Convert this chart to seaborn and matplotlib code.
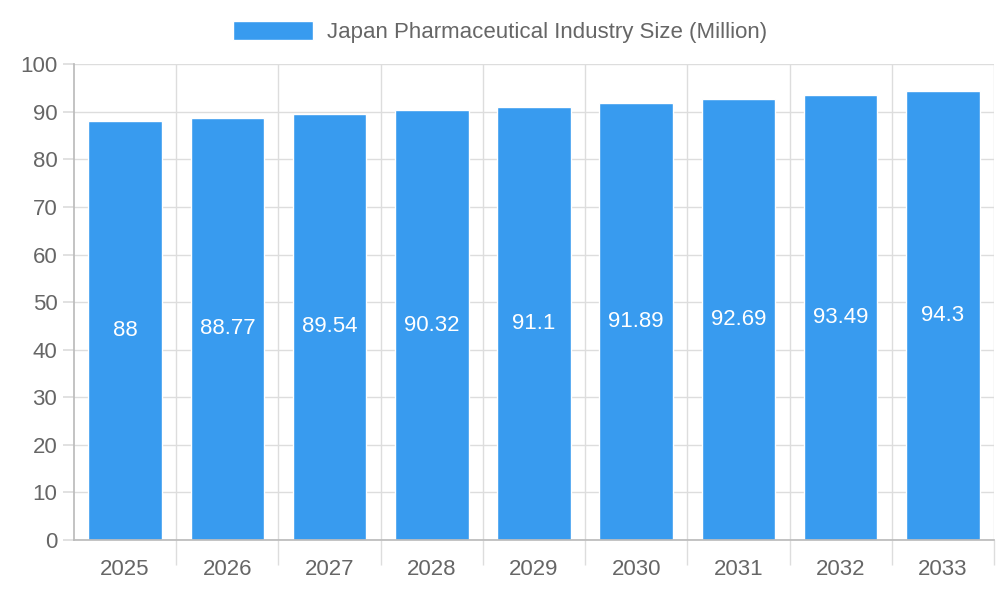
import matplotlib
matplotlib.use("Agg")
import matplotlib.pyplot as plt
import seaborn as sns
import numpy as np
import pandas as pd
from matplotlib.patches import Patch

years = ["2025","2026","2027","2028","2029","2030","2031","2032","2033"]
values = [88, 88.77, 89.54, 90.32, 91.1, 91.89, 92.69, 93.49, 94.3]
labels = ["88","88.77","89.54","90.32","91.1","91.89","92.69","93.49","94.3"]
series_name = "Japan Pharmaceutical Industry Size (Million)"
color = "#389BEF"

sns.set_theme(style="white")
plt.rcParams['font.family'] = ['Liberation Sans', 'DejaVu Sans']

fig = plt.figure(figsize=(10, 6), dpi=100)
ax = fig.add_axes([0.074, 0.1, 0.92, 0.793])
df = pd.DataFrame({"year": years, "value": values})
sns.barplot(data=df, x="year", y="value", color=color, saturation=1, width=0.72, ax=ax)

for i, (v, lab) in enumerate(zip(values, labels)):
    ax.text(i, v / 2, lab, ha="center", va="center", color="white", fontsize=16)

ax.set_ylim(0, 100)
ax.set_xlim(-0.5, len(years) - 0.5)
ax.set_yticks(np.arange(0, 101, 10))
ax.set_xlabel("")
ax.set_ylabel("")
gc = "#dddddd"
ax.set_xticks(np.arange(len(years)) + 0.5, minor=True)
ax.grid(True, axis="y", color=gc, linewidth=1)
ax.grid(True, axis="x", which="minor", color=gc, linewidth=1)
ax.set_axisbelow(True)
ax.tick_params(axis="x", which="major", length=0, pad=14, labelsize=16, labelcolor="#666666")
ax.tick_params(axis="x", which="minor", length=18, color=gc, bottom=True)
ax.tick_params(axis="y", length=8, color=gc, left=True, labelsize=16, labelcolor="#666666", pad=4)
for s in ["top", "right"]:
    ax.spines[s].set_visible(False)
ax.spines["left"].set_color("#bbbbbb")
ax.spines["bottom"].set_color("#bbbbbb")

fig.legend(handles=[Patch(facecolor=color, label=series_name)], loc="center",
           bbox_to_anchor=(0.5, 0.947), frameon=False, fontsize=16,
           labelcolor="#666666", handlelength=3.6, handleheight=1.0, handletextpad=0.6)

fig.savefig("out.png", dpi=100)
